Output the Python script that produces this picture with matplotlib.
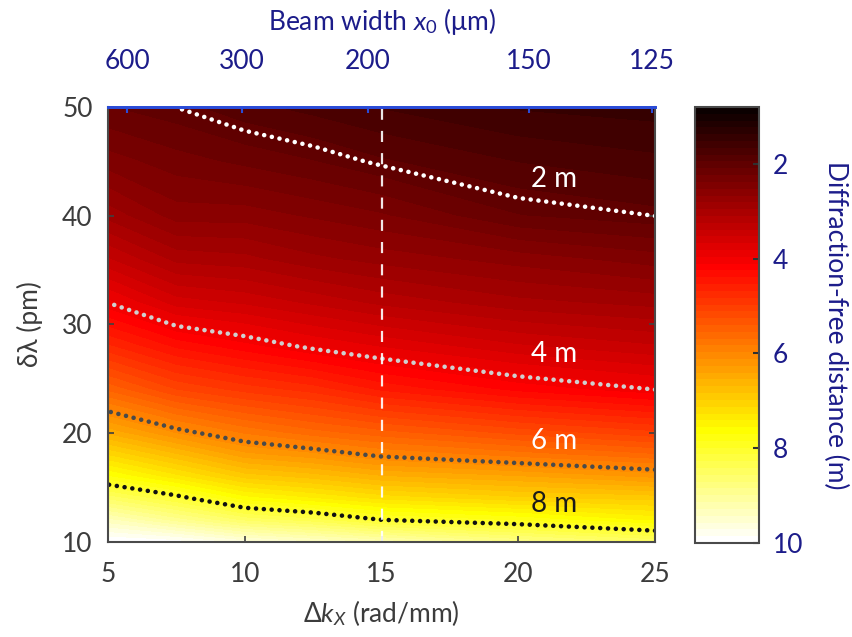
import matplotlib
matplotlib.use("Agg")
import matplotlib.pyplot as plt
import numpy as np

plt.rcParams['font.family'] = ['Lato', 'Open Sans', 'DejaVu Sans']
plt.rcParams['mathtext.fontset'] = 'custom'
plt.rcParams['mathtext.rm'] = 'Lato'
plt.rcParams['mathtext.it'] = 'Lato:italic'

# ---------------
# Datos
# ---------------

# Eje x: ancho espectral Delta k_X (rad/mm)
dk = [5, 7.5, 10, 12.5, 15, 20, 25]

# Eje y: delta lambda (pm)
dlam = [10, 12, 14, 16, 18, 20, 24, 28, 32, 36, 40, 45, 50]

# Distancia libre de difracción (m), filas = dlam, columnas = dk
dist = [
    [10.0, 9.9, 9.6, 9.4, 9.2, 8.8, 8.5],
    [9.3, 8.9, 8.5, 8.3, 8.0, 7.8, 7.5],
    [8.5, 8.1, 7.6, 7.4, 7.2, 7.0, 6.9],
    [7.7, 7.3, 6.9, 6.75, 6.55, 6.4, 6.2],
    [7.1, 6.7, 6.3, 6.15, 5.95, 5.75, 5.55],
    [6.5, 6.1, 5.8, 5.6, 5.45, 5.2, 5.0],
    [5.5, 5.1, 4.9, 4.75, 4.5, 4.2, 4.0],
    [4.7, 4.35, 4.15, 3.95, 3.8, 3.55, 3.4],
    [4.0, 3.6, 3.5, 3.35, 3.2, 3.0, 2.9],
    [3.4, 3.05, 3.0, 2.85, 2.75, 2.6, 2.45],
    [2.9, 2.6, 2.6, 2.5, 2.4, 2.1, 2.0],
    [2.45, 2.3, 2.2, 2.1, 1.97, 1.8, 1.7],
    [2.1, 2.0, 1.85, 1.75, 1.65, 1.5, 1.45],
]

# Curvas de nivel y sus etiquetas
lvl = [2, 4, 6, 8]
lvl_colors = ['#ffffff', '#cfcfcf', '#4a4a4a', '#111111']
lvl_text = ['2 m', '4 m', '6 m', '8 m']
lvl_text_colors = ['white', 'white', 'white', '#1a1a1a']
lvl_text_x = [21.3, 21.3, 21.3, 21.3]
lvl_text_y = [43.4, 27.3, 19.3, 13.5]

# Eje superior: ancho del haz x0 (um)
x0_pos = [5.7, 9.9, 14.5, 20.4, 24.9]
x0_labels = ['600', '300', '200', '150', '125']

dk_mark = 15

# ---------------
# Figura
# ---------------

blue_txt = '#1c1c8a'
gray_txt = '#3c3c3c'
fs = 19

fig = plt.figure(figsize=(8.53, 6.37), dpi=100)
ax = fig.add_axes([0.1266, 0.1499, 0.6413, 0.6814])
cax = fig.add_axes([0.8148, 0.1476, 0.0750, 0.6845])

K, L = np.meshgrid(dk, dlam)
Z = np.array(dist)

cmap = plt.get_cmap('hot', 64)
cf = ax.contourf(K, L, Z, levels=np.linspace(0.8, 10, 65), cmap=cmap,
                 vmin=0.8, vmax=10, antialiased=False)

for v, c in zip(lvl, lvl_colors):
    cs = ax.contour(K, L, Z, levels=[v], colors=[c],
                    linestyles=[(0, (0.01, 1.7))], linewidths=3.3)
    cs.set_capstyle('round')

for t, c, x, y in zip(lvl_text, lvl_text_colors, lvl_text_x, lvl_text_y):
    ax.text(x, y, t, color=c, fontsize=fs + 1, ha='center', va='center')

ax.axvline(dk_mark, color='white', ls=(0, (5, 5)), lw=1.6, alpha=0.9)

ax.set_xlim(5, 25)
ax.set_ylim(10, 50)
ax.set_xticks([5, 10, 15, 20, 25])
ax.set_yticks([10, 20, 30, 40, 50])
ax.tick_params(direction='in', length=4, width=1.2, colors='#404040',
               labelcolor=gray_txt, labelsize=fs, right=True, top=False)
ax.tick_params(axis='x', pad=15)
ax.tick_params(axis='y', pad=11)
for s in ['left', 'bottom', 'right']:
    ax.spines[s].set_color('#4a4a4a')
    ax.spines[s].set_linewidth(1.5)
ax.spines['top'].set_color('#2a4bd7')
ax.spines['top'].set_linewidth(2)

ax.set_xlabel(r'$\mathrm{\Delta}k_{X}$ (rad/mm)', fontsize=fs, color=gray_txt, labelpad=8)
ax.set_ylabel('δλ (pm)', fontsize=fs, color=gray_txt, labelpad=14)

axt = ax.twiny()
axt.set_xlim(5, 25)
axt.set_xticks(x0_pos)
axt.set_xticklabels(x0_labels)
axt.tick_params(direction='in', length=4, width=1.5, colors='#2a4bd7',
                labelcolor=blue_txt, labelsize=fs, pad=24)
axt.spines['top'].set_color('#2a4bd7')
axt.spines['top'].set_linewidth(2)
for s in ['left', 'bottom', 'right']:
    axt.spines[s].set_visible(False)
axt.set_xlabel(r'Beam width $x_{\mathit{0}}$ (μm)', fontsize=fs, color=blue_txt, labelpad=14)

cb = fig.colorbar(cf, cax=cax, ticks=[2, 4, 6, 8, 10])
cax.invert_yaxis()
cb.outline.set_edgecolor('#4a4a4a')
cb.outline.set_linewidth(1.5)
cax.tick_params(direction='in', length=4, width=1.5, colors='#303030',
                labelcolor=blue_txt, labelsize=fs, pad=10)
cax.set_yticklabels(['2', '4', '6', '8', '10'])
cb.set_label('Diffraction-free distance (m)', fontsize=fs, color=blue_txt,
             rotation=270, va='center')
cax.yaxis.set_label_coords(2.2, 0.5)

plt.savefig('out.png', dpi=100)
